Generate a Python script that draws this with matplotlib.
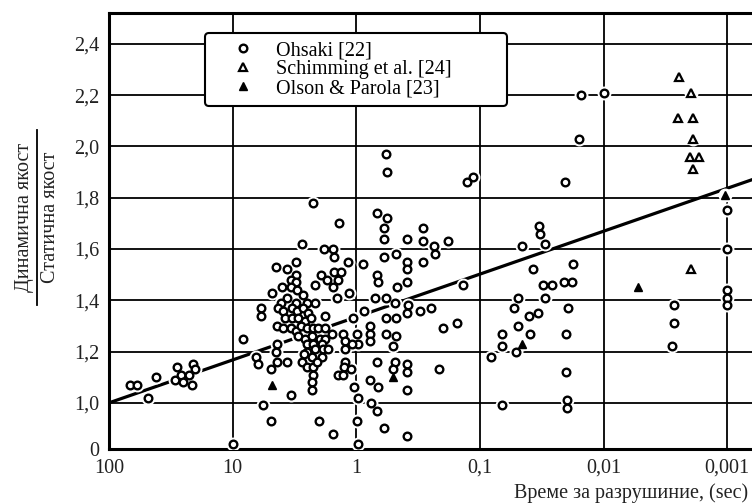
import matplotlib
matplotlib.use("Agg")
import matplotlib.pyplot as plt
from matplotlib.lines import Line2D
from matplotlib.ticker import NullLocator
import numpy as np

plt.rcParams["font.family"] = ["Liberation Serif", "DejaVu Serif"]

# Ohsaki [22] -- time to failure (sec) and dynamic/static strength, grouped by decade
ohsaki_t_a = [68, 59, 48, 42, 28, 29, 26, 25, 22.5, 21, 21.3, 20, 9.9]
ohsaki_r_a = [1.07, 1.07, 1.02, 1.10, 1.14, 1.09, 1.11, 1.08, 1.11, 1.15, 1.07, 1.13, 0.84]

ohsaki_t_b = [8.2, 5.9, 5.9, 6.5, 6.2, 4.9, 4.8, 4.5, 4.4, 4.5, 4.4, 4.9, 5.7, 3.4, 2.0, 1.54, 0.98, 0.97,
              2.74, 3.6, 3.07, 1.82, 1.54, 1.16, 2.24, 1.38, 1.51,
              3.1, 3.4, 3.07, 1.93, 1.72, 1.51, 1.33, 1.40, 2.15, 4.0, 3.4, 3.0, 1.54, 2.7, 3.6, 1.43, 1.14,
              4.1, 3.1, 2.15, 2.5, 4.3, 3.9, 3.3, 3.0, 2.7, 2.45, 3.8, 3.3, 2.96, 2.6, 2.32, 1.79,
              3.9, 3.4, 3.1, 2.8, 2.5, 2.24, 2.04, 1.79, 1.57, 2.96, 2.6, 2.28, 1.96, 1.79,
              2.5, 2.24, 1.89, 4.4, 1.28, 1.23, 1.23, 2.5, 2.15, 1.85, 1.69, 2.64, 2.28, 1.89,
              3.6, 2.74, 2.5, 2.24, 2.07, 1.23, 1.26, 1.10, 1.40, 1.28, 2.24, 2.28, 2.28]
ohsaki_r_b = [1.25, 1.37, 1.34, 1.18, 1.15, 1.13, 1.43, 1.53, 1.30, 1.20, 1.16, 0.93, 0.99, 1.03, 0.93, 0.88, 0.93, 0.84,
              1.62, 1.52, 1.55, 1.60, 1.60, 1.55, 1.78, 1.70, 1.57,
              1.50, 1.48, 1.47, 1.50, 1.48, 1.51, 1.51, 1.48, 1.46, 1.45, 1.45, 1.44, 1.45, 1.42, 1.41, 1.41, 1.43,
              1.39, 1.39, 1.39, 1.39, 1.37, 1.36, 1.37, 1.36, 1.37, 1.35, 1.33, 1.33, 1.33, 1.32, 1.33, 1.34,
              1.29, 1.29, 1.28, 1.30, 1.29, 1.29, 1.29, 1.29, 1.27, 1.26, 1.25, 1.26, 1.25, 1.25,
              1.23, 1.23, 1.23, 1.23, 1.27, 1.24, 1.21, 1.20, 1.21, 1.21, 1.21, 1.19, 1.18, 1.18,
              1.16, 1.16, 1.14, 1.14, 1.16, 1.16, 1.14, 1.13, 1.11, 1.11, 1.11, 1.08, 1.05]

ohsaki_t_c = [0.57, 0.56, 0.113, 0.127, 0.68, 0.56, 0.60, 0.60, 0.29, 0.29, 0.39, 0.18, 0.234, 0.23, 0.48, 0.60,
              0.88, 0.39, 0.39, 0.29, 0.68, 0.67, 0.39, 0.47, 0.137,
              0.70, 0.58, 0.485, 0.38, 0.39, 0.305, 0.25, 0.86, 1.06, 0.58, 0.48, 0.77, 0.77, 0.77, 0.98, 0.97,
              1.08, 0.57, 0.48, 0.50, 0.199, 0.153,
              0.68, 0.485, 0.50, 0.39, 0.39, 0.214, 0.77, 0.67, 1.04, 0.39, 0.97, 0.76, 0.68, 0.60, 0.39]
ohsaki_r_c = [1.97, 1.90, 1.88, 1.86, 1.74, 1.72, 1.68, 1.64, 1.68, 1.63, 1.64, 1.63, 1.61, 1.58, 1.58, 1.57,
              1.54, 1.55, 1.52, 1.55, 1.50, 1.47, 1.47, 1.45, 1.46,
              1.41, 1.41, 1.39, 1.38, 1.35, 1.36, 1.37, 1.36, 1.33, 1.33, 1.33, 1.30, 1.27, 1.24, 1.27, 1.23,
              1.23, 1.27, 1.26, 1.22, 1.29, 1.31,
              1.16, 1.16, 1.13, 1.15, 1.12, 1.13, 1.09, 1.06, 1.06, 1.05, 1.02, 1.00, 0.97, 0.90, 0.87]

ohsaki_t_d = [0.0152, 0.010, 0.0157, 0.0205, 0.033, 0.0326, 0.0297, 0.046, 0.0176, 0.037, 0.031, 0.026,
              0.0208, 0.018, 0.049, 0.0297, 0.053, 0.0193, 0.040, 0.034, 0.049, 0.066, 0.039, 0.020,
              0.066, 0.051, 0.081, 0.020, 0.066, 0.0197, 0.0197]
ohsaki_r_d = [2.20, 2.21, 2.03, 1.86, 1.69, 1.66, 1.62, 1.61, 1.54, 1.52, 1.46, 1.46,
              1.47, 1.47, 1.41, 1.41, 1.37, 1.37, 1.34, 1.35, 1.30, 1.27, 1.27, 1.27,
              1.22, 1.20, 1.18, 1.12, 0.99, 1.01, 0.98]

ohsaki_t_e = [0.0027, 0.0027, 0.0028, 0.001, 0.001, 0.001, 0.001, 0.001]
ohsaki_r_e = [1.38, 1.31, 1.22, 1.75, 1.60, 1.44, 1.41, 1.38]

# Schimming et al. [24]
schimming_t = [0.00245, 0.00195, 0.0025, 0.0019, 0.00188, 0.0020, 0.00168, 0.00188, 0.00195]
schimming_r = [2.27, 2.21, 2.11, 2.11, 2.03, 1.96, 1.96, 1.91, 1.52]

# Olson & Parola [23]
olson_t = [4.8, 0.50, 0.0455, 0.0053, 0.00104]
olson_r = [1.07, 1.10, 1.23, 1.45, 1.81]

# regression line
fit_t = [100, 0.00063]
fit_r = [1.0, 1.87]

x_ticks = [100, 10, 1, 0.1, 0.01, 0.001]
x_labels = ["100", "10", "1", "0,1", "0,01", "0,001"]
y_ticks = [0.82, 1.0, 1.2, 1.4, 1.6, 1.8, 2.0, 2.2, 2.4]
y_labels = ["0", "1,0", "1,2", "1,4", "1,6", "1,8", "2,0", "2,2", "2,4"]

ohsaki_t = ohsaki_t_a + ohsaki_t_b + ohsaki_t_c + ohsaki_t_d + ohsaki_t_e
ohsaki_r = ohsaki_r_a + ohsaki_r_b + ohsaki_r_c + ohsaki_r_d + ohsaki_r_e

W, H = 752, 504
fig = plt.figure(figsize=(W / 100, H / 100), dpi=100)
ax = fig.add_axes([109 / W, (H - 449) / H, (W - 109) / W, (449 - 13) / H])

ax.set_xscale("log")
ax.set_xlim(100, 0.00063)
ax.set_ylim(0.82, 2.52)

ax.plot(fit_t, fit_r, color="black", lw=2.3, zorder=2)

# white halo under every marker, breaks grid and fit line like the original
halo_t = ohsaki_t + schimming_t + olson_t
halo_r = ohsaki_r + schimming_r + olson_r
ax.plot(halo_t, halo_r, "o", ms=9, color="white", zorder=3)

mk = dict(ls="none", color="black", zorder=4)
h1, = ax.plot(ohsaki_t, ohsaki_r, "o", ms=5.5, mfc="white", mew=1.7, label="Ohsaki [22]", **mk)
h2, = ax.plot(schimming_t, schimming_r, "^", ms=6, mfc="white", mew=1.6, label="Schimming et al. [24]", **mk)
h3, = ax.plot(olson_t, olson_r, "^", ms=6, mfc="black", mew=1.0, label="Olson & Parola [23]", **mk)

ax.set_xticks(x_ticks)
ax.set_xticklabels(x_labels)
ax.xaxis.set_minor_locator(NullLocator())
ax.set_yticks(y_ticks)
ax.set_yticklabels(y_labels)
ax.tick_params(axis="both", length=0, labelsize=14.5, colors="#222222")
ax.tick_params(axis="x", pad=7)
ax.tick_params(axis="y", pad=7)

ax.grid(True, color="black", lw=1.3, zorder=0)
ax.set_axisbelow(True)
for side in ["left", "bottom", "top"]:
    ax.spines[side].set_linewidth(2.2)
ax.spines["right"].set_visible(False)

leg = ax.legend(handles=[h1, h2, h3], loc="upper left",
                bbox_to_anchor=((205 - 109) / 643, (449 - 116) / 436, 302 / 643, 83 / 436),
                mode="expand", borderaxespad=0, fontsize=14.5, handlelength=3.0,
                handletextpad=0.15, borderpad=0.4, labelspacing=0.0, fancybox=True,
                framealpha=1, edgecolor="black")
leg.get_frame().set_linewidth(1.5)
leg.set_zorder(6)

# axis titles
fig.text(748 / W, (H - 493) / H, "Време за разрушиние, (sec)", ha="right", va="center",
         fontsize=14.5, color="#222222")
yc = (H - 217) / H
fig.text(34 / W, yc, "Динамична якост", rotation=90, ha="right", va="center",
         fontsize=14.5, color="#222222")
fig.text(41 / W, yc, "Статична якост", rotation=90, ha="left", va="center",
         fontsize=14.5, color="#222222")
fig.add_artist(Line2D([37 / W, 37 / W], [(H - 130) / H, (H - 305) / H],
                      transform=fig.transFigure, color="black", lw=1.3))

fig.savefig("out.png", dpi=100)
